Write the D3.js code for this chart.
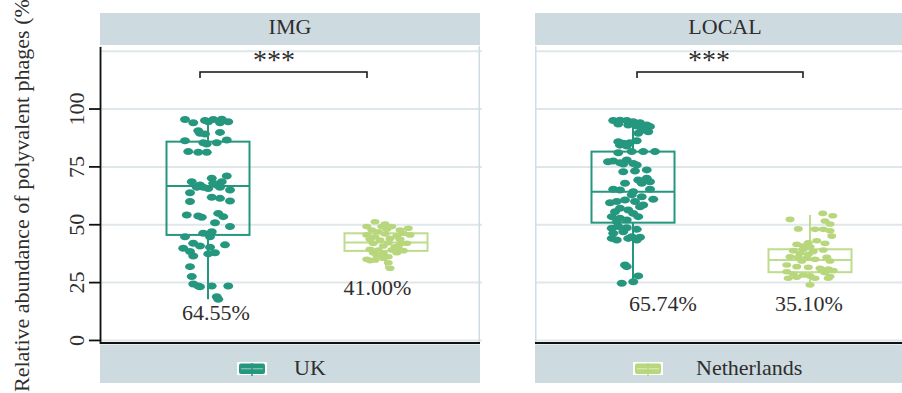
<!DOCTYPE html>
<html>
<head>
<meta charset="utf-8">
<script src="https://cdn.jsdelivr.net/npm/d3@7"></script>
<style>
  html, body { margin: 0; padding: 0; background: #fff; }
  svg { display: block; }
  svg text { font-family: "Liberation Serif", "DejaVu Serif", "Times New Roman", serif; }
</style>
</head>
<body>
<svg id="chart" width="902" height="393" font-family="Liberation Serif, DejaVu Serif, serif"></svg>
<script>
// ---- data ----
const facets = ["IMG", "LOCAL"];
const countries = ["UK", "Netherlands"];
const yTicks = [0, 25, 50, 75, 100];
const gridValues = [0, 25, 50, 75, 100, 125];
const sigLabels = ["***", "***"];
const meanIMG = ["64.55%", "41.00%"];
const meanLOCAL = ["65.74%", "35.10%"];

// box statistics: [lower whisker, Q1, median, Q3, upper whisker]
const boxIMG = [[17.8, 45.6, 66.7, 85.9, 95.6], [31.2, 38.7, 42.3, 46.3, 51.3]];
const boxLOCAL = [[24.7, 50.9, 64.3, 81.6, 95.2], [24.8, 29.5, 34.8, 39.4, 54.2]];

// samples: [abundance %, jitter (-1..1)]
const imgUK = [
  [95.5,-0.92],[94.1,-0.59],[95,-0.12],[95.5,0.21],[95.6,0.55],[94.5,0.81],[94.1,0.48],[94.5,0.01],
  [90.6,-0.39],[89.5,-0.32],[89.2,-0.12],[89.9,0.48],
  [86.3,-0.92],[85.4,-0.19],[85.4,0.35],[86.6,0.75],[84.9,-0.05],
  [81.6,-0.79],[81.3,-0.39],[81.3,-0.05],
  [68.6,-0.65],[70.1,0.15],[71.1,0.75],[67.2,-0.32],[66.2,-0.19],[67.2,0.35],[68.6,0.55],[65,0.88],
  [63.8,-0.72],[65.7,0.01],[66.2,0.48],[66.2,-0.45],[67.9,0.21],
  [61.9,0.15],[61.4,0.48],[60.3,0.88],[60,-0.72],
  [54.2,-0.85],[53.8,-0.39],[53.2,-0.25],[54.9,0.41],[53.5,0.61],
  [50.9,0.28],[49.2,0.88],
  [46.3,-0.19],[47,0.15],[44.8,-0.92],[44.8,0.08],
  [42,-0.59],[40.8,-0.32],[41.3,0.68],[40.3,0.08],[39.8,-0.99],
  [38.4,-0.72],[36.5,-0.59],[37.4,0.01],[37.9,0.28],
  [31.9,-0.72],[27.6,-0.65],
  [24.4,-0.59],[23.5,-0.39],[23.5,0.15],[23.5,0.81],[23.2,-0.32],
  [18.9,0.35],[17.8,0.41]
];
const imgNL = [
  [51.3,-0.44],[50.3,-0.04],[49.2,-0.77],[49.2,-0.17],[49.2,0.23],[47.7,0.56],[48.5,0.89],[47.7,-0.57],
  [48,0.03],[47,-0.31],[45.6,-0.77],[44.8,-0.44],[46,-0.04],[45.1,0.43],[46.3,0.69],[45.6,0.96],
  [43.7,-0.64],[43.4,-0.24],[44.1,0.16],[43.7,0.56],[42,-0.51],[42.2,0.09],[41.7,0.56],[42,0.83],
  [40.5,0.36],[40.8,-0.11],[39.4,-0.64],[39.1,-0.31],[39.1,0.23],[38.8,0.69],[39.8,0.49],
  [37.9,-0.51],[37.7,-0.11],[36.9,-0.37],[36.2,0.09],[37.9,0.43],
  [35.1,-0.77],[34.5,-0.64],[34.8,-0.44],[35.5,-0.11],[33.6,0.09],[31.2,0.16]
];
const localUK = [
  [95,-0.79],[95.2,-0.52],[95,-0.25],[94.5,0.01],[94.1,0.28],[93.1,0.55],[92.4,0.68],[93.5,-0.59],
  [93.1,-0.19],[91.7,0.35],[92.7,0.15],[90.9,0.48],[90.2,0.61],[89.5,0.21],
  [85.9,-0.59],[85.2,-0.39],[85.4,-0.12],[86.3,0.15],[84.4,-0.52],[84,-0.25],
  [81.1,-0.59],[81.6,-0.05],[81.6,0.41],[81.6,0.88],
  [77.2,-1],[77.5,-0.79],[76.8,-0.52],[78,-0.25],[76.5,0.01],[76.2,-0.39],[75.8,0.15],
  [73.7,0.55],[73.2,0.08],[72.9,-0.39],
  [69.3,0.21],[70.1,0.55],[67.9,0.35],[68.6,0.68],[67.9,-0.32],
  [65.3,-0.79],[65,-0.52],[64.3,0.01],[65.3,0.68],[62.9,-0.05],[62.1,0.35],
  [59.5,-0.92],[60,-0.65],[60.7,-0.32],[60,0.08],[58.5,0.41],[61,0.81],
  [57.1,-0.52],[56.4,-0.19],[57.8,0.28],[55.6,-0.72],[54.9,0.01],
  [53.5,-0.85],[52.8,-0.52],[53.5,0.21],[51.3,-0.65],[52.1,-0.25],
  [48.5,-0.85],[49.2,-0.59],[48.7,-0.25],[48,0.15],[46.3,-0.79],[47,-0.39],
  [44.8,-0.05],[44.6,0.28],[44.1,-0.85],[43.4,-0.65],[44.1,-0.19],[43.4,0.15],
  [32.6,-0.32],[31.9,-0.25],[24.7,-0.45],[27.9,0.21],[25.4,0.01]
];
const localNL = [
  [54.9,0.51],[53.9,0.91],[52.3,-0.8],[51.6,0.6],[50.3,0.8],[48.2,-0.47],[48,0.2],[48,0.53],
  [47.4,0.8],[45.1,0.87],[43.1,0.27],
  [41.5,-0.53],[42.2,-0.07],[42,0.6],[40.8,-0.27],[40.5,0],
  [38.8,-0.67],[39.4,-0.27],[38.4,0.13],[39.1,0.53],[37.7,-0.4],[37.2,-0.07],
  [36.2,-0.8],[35.9,-0.47],[35.5,-0.13],[35.1,0.2],[35.9,0.67],[34.3,-0.33],[34.3,0.8],
  [32.6,-0.93],[31.9,-0.53],[31.6,-0.07],[31.2,0.4],[30.8,0.73],[30.2,0.93],
  [29.7,-0.93],[28.7,-0.67],[28.3,-0.27],[27.9,0],[30.2,0.47],[29.3,0.6],[27.6,0.8],
  [26.9,-0.87],[27.3,-0.53],[26.9,0.2],[26.9,0.73],[24,0]
];

const facetData = {
  IMG:   { box: boxIMG,   means: meanIMG,   samples: [imgUK, imgNL] },
  LOCAL: { box: boxLOCAL, means: meanLOCAL, samples: [localUK, localNL] }
};

// ---- styling / layout ----
const serif = "Liberation Serif, DejaVu Serif, serif";
const colors = { UK: "#25977e", Netherlands: "#b8d77d" };
const boxStroke = { UK: "#25977e", Netherlands: "#bddc8c" };
const dotSize = { UK: [5, 3.5], Netherlands: [4.5, 2.8] };
const stripFill = "#cddbe0";
const gridColor = "#dfe7ea";
const textColor = "#2e2e2e";
const jitterPx = 25;
const boxWidth = 83;

const layout = {
  IMG:   { x0: 100, x1: 480, centers: [208, 386], bracket: [200, 367], star: 274, labelX: [216, 377.5], labelY: [320, 295], legendX: 237 },
  LOCAL: { x0: 535, x1: 915, centers: [633, 810], bracket: [637, 803], star: 709, labelX: [663, 809], labelY: [311, 311], legendX: 633 }
};

const panelTop = 46, panelBottom = 343;
const y = d3.scaleLinear().domain([-1.1, 126.8]).range([panelBottom, 47]);

const svg = d3.select("#chart");
svg.append("rect").attr("width", 902).attr("height", 393).attr("fill", "#fff");

function label(sel) {
  return sel.attr("font-family", serif).attr("font-size", 22).attr("fill", textColor);
}

facets.forEach((facet, fi) => {
  const L = layout[facet];
  const D = facetData[facet];
  const x = d3.scalePoint().domain(countries).range(L.centers);
  const g = svg.append("g");

  // strip
  g.append("rect").attr("x", L.x0).attr("y", 13).attr("width", L.x1 - L.x0).attr("height", 32).attr("fill", stripFill);
  label(g.append("text")).attr("x", (L.x0 + L.x1) / 2).attr("y", 33.5).attr("text-anchor", "middle").text(facet);

  // gridlines
  g.selectAll("line.grid").data(gridValues).join("line")
    .attr("x1", L.x0).attr("x2", L.x1 + 2)
    .attr("y1", d => y(d)).attr("y2", d => y(d))
    .attr("stroke", gridColor).attr("stroke-width", 2);

  // panel side borders
  [L.x0 + 0.75, L.x1 - 0.75].forEach(px => {
    g.append("line").attr("x1", px).attr("x2", px).attr("y1", panelTop).attr("y2", panelBottom)
      .attr("stroke", "#cfdce1").attr("stroke-width", 1.5);
  });

  // bottom axis line and legend band
  g.append("rect").attr("x", L.x0).attr("y", 344.5).attr("width", L.x1 - L.x0).attr("height", 38.5).attr("fill", stripFill);
  g.append("line").attr("x1", L.x0).attr("x2", L.x1).attr("y1", panelBottom).attr("y2", panelBottom)
    .attr("stroke", "#111").attr("stroke-width", 1.8);

  // boxplots
  countries.forEach((c, ci) => {
    const s = D.box[ci];
    const cx = x(c);
    const bg = g.append("g").attr("stroke", boxStroke[c]).attr("stroke-width", 2).attr("fill", "none");
    bg.append("line").attr("x1", cx).attr("x2", cx).attr("y1", y(s[3])).attr("y2", y(s[4]));
    bg.append("line").attr("x1", cx).attr("x2", cx).attr("y1", y(s[1])).attr("y2", y(s[0]));
    bg.append("rect").attr("x", cx - boxWidth / 2).attr("width", boxWidth)
      .attr("y", y(s[3])).attr("height", y(s[1]) - y(s[3]));
    bg.append("line").attr("x1", cx - boxWidth / 2).attr("x2", cx + boxWidth / 2)
      .attr("y1", y(s[2])).attr("y2", y(s[2]));
  });

  // jittered samples
  countries.forEach((c, ci) => {
    g.append("g").selectAll("ellipse").data(D.samples[ci]).join("ellipse")
      .attr("cx", d => x(c) + d[1] * jitterPx)
      .attr("cy", d => y(d[0]))
      .attr("rx", dotSize[c][0]).attr("ry", dotSize[c][1])
      .attr("fill", colors[c]);
  });

  // mean labels
  countries.forEach((c, ci) => {
    label(g.append("text")).attr("x", L.labelX[ci]).attr("y", L.labelY[ci]).attr("text-anchor", "middle")
      .text(D.means[ci]);
  });

  // significance bracket
  const by = 72, bt = 78;
  g.append("path")
    .attr("d", `M${L.bracket[0]},${bt}V${by}H${L.bracket[1]}V${bt}`)
    .attr("fill", "none").attr("stroke", "#111").attr("stroke-width", 1.5);
  label(g.append("text")).attr("x", L.star).attr("y", 69).attr("text-anchor", "middle")
    .attr("font-size", 28).text(sigLabels[fi]);

  // legend entry
  const c = countries[fi];
  const lg = g.append("g").attr("transform", `translate(${L.legendX},362)`);
  lg.append("rect").attr("width", 30).attr("height", 13).attr("fill", "#fff");
  lg.append("rect").attr("x", 2).attr("y", 1.5).attr("width", 26).attr("height", 10.5).attr("rx", 2)
    .attr("fill", colors[c]);
  lg.append("line").attr("x1", 4).attr("x2", 26).attr("y1", 6.75).attr("y2", 6.75)
    .attr("stroke", "#ffffff").attr("stroke-opacity", 0.45).attr("stroke-width", 1.2);
  lg.append("line").attr("x1", 15).attr("x2", 15).attr("y1", 1).attr("y2", 14)
    .attr("stroke", colors[c]).attr("stroke-width", 1.5);
  label(lg.append("text")).attr("x", fi === 0 ? 57 : 63).attr("y", 13).text(c);
});

// left y axis
const ax = svg.append("g");
ax.append("line").attr("x1", 100.5).attr("x2", 100.5).attr("y1", 47).attr("y2", panelBottom + 0.9)
  .attr("stroke", "#111").attr("stroke-width", 1.8);
ax.selectAll("line.tick").data(yTicks).join("line")
  .attr("x1", 89).attr("x2", 100.5).attr("y1", d => y(d)).attr("y2", d => y(d))
  .attr("stroke", "#111").attr("stroke-width", 1.8);
label(ax.selectAll("text").data(yTicks).join("text"))
  .attr("transform", d => `translate(84,${y(d)}) rotate(-90)`)
  .attr("text-anchor", "middle")
  .text(d => d);

// y axis title
label(svg.append("text")).attr("transform", "translate(29,392) rotate(-90)")
  .text("Relative abundance of polyvalent phages (%)");
</script>
</body>
</html>
